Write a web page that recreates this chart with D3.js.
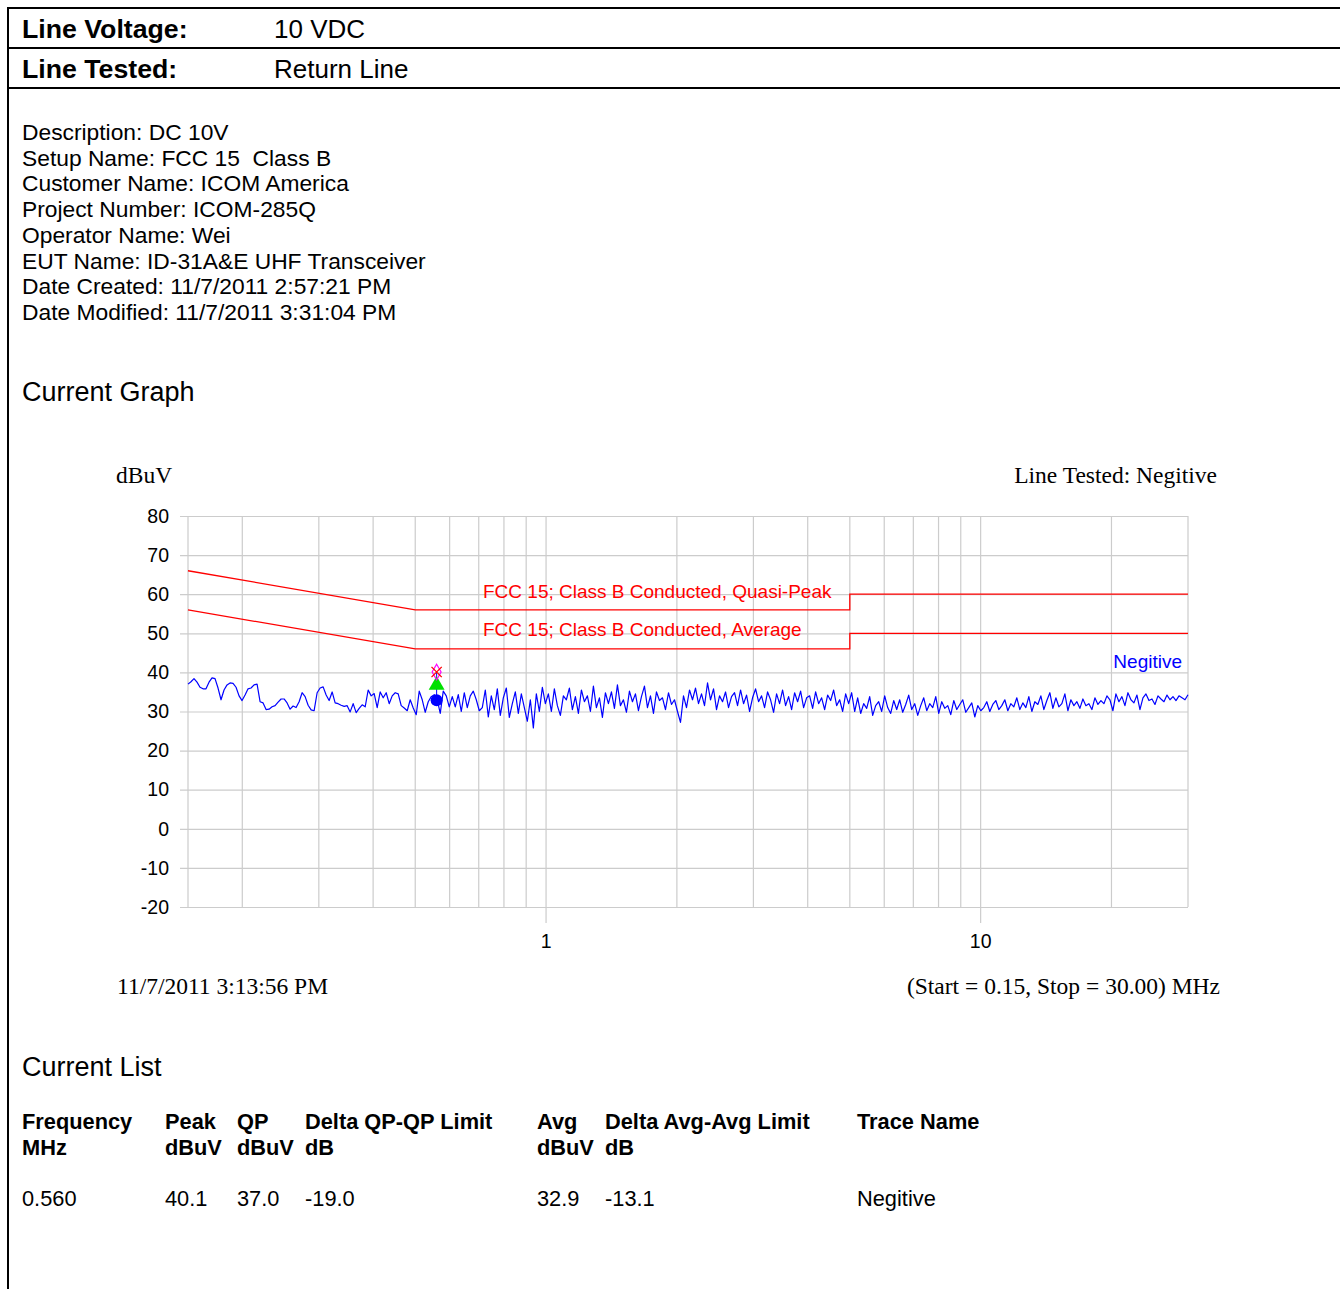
<!DOCTYPE html>
<html>
<head>
<meta charset="utf-8">
<script src="https://cdnjs.cloudflare.com/ajax/libs/d3/7.8.5/d3.min.js"></script>
<style>
  body { margin: 0; background: #ffffff; }
  svg { display: block; }
</style>
</head>
<body>
<script>
const width = 1340;
const height = 1289;

//HEADER + DESCRIPTION TEXT
const headerRows = [["Line Voltage:", "10 VDC"], ["Line Tested:", "Return Line"]];
const descriptionLines = [
    "Description: DC 10V",
    "Setup Name: FCC 15  Class B",
    "Customer Name: ICOM America",
    "Project Number: ICOM-285Q",
    "Operator Name: Wei",
    "EUT Name: ID-31A&E UHF Transceiver",
    "Date Created: 11/7/2011 2:57:21 PM",
    "Date Modified: 11/7/2011 3:31:04 PM"
];

//CHART DATA
const sweepStart = 0.15;   // MHz
const sweepStop = 30;      // MHz
const yTicks = [-20, -10, 0, 10, 20, 30, 40, 50, 60, 70, 80];
const xLabelTicks = [1, 10];

// limit lines: [MHz, dBuV]
const qpLimit = [[0.15, 66], [0.5, 56], [5, 56], [5, 60], [30, 60]];
const avgLimit = [[0.15, 56], [0.5, 46], [5, 46], [5, 50], [30, 50]];

// trace levels (dBuV), sweep points evenly stepped in log frequency from start to stop
const traceLevels = [
    37.0, 37.6, 38.4, 37.5, 36.2, 35.8, 35.8, 37.5, 38.6, 38.4,
    36.0, 33.0, 35.5, 36.8, 37.3, 37.2, 36.2, 34.0, 32.8, 34.2,
    35.8, 36.0, 36.8, 37.0, 32.5, 32.2, 30.5, 30.6, 31.2, 31.5,
    32.4, 33.2, 33.2, 32.2, 30.6, 31.4, 31.0, 32.5, 34.8, 33.8,
    31.6, 30.4, 30.2, 34.8, 36.0, 36.3, 34.2, 32.8, 35.0, 32.2,
    32.0, 31.6, 31.3, 31.5, 29.9, 32.0, 29.7, 30.8, 31.7, 31.2,
    35.5, 34.0, 34.6, 31.0, 35.0, 33.5, 34.8, 32.0, 34.0, 34.8,
    34.5, 31.5, 30.9, 30.2, 33.0, 30.9, 29.2, 35.2, 33.0, 29.8,
    32.5, 33.8, 34.3, 33.0, 29.5, 35.2, 34.0, 31.2, 33.8, 31.2,
    34.3, 30.0, 34.8, 31.0, 34.0, 35.2, 33.0, 30.2,
    // 0.56 - 1.3 MHz
    31.0, 35.5, 28.6, 34.0, 30.5, 35.8, 29.0, 33.5, 36.0, 28.5,
    32.0, 35.0, 29.5, 34.5, 31.0, 27.5, 33.0, 25.8, 34.5, 30.0,
    36.2, 32.0, 34.5, 30.0, 35.8, 31.5, 29.0, 34.0, 33.0, 36.0,
    30.5, 33.8, 29.5, 35.5, 32.5, 34.0, 30.0, 36.5, 31.0, 33.5,
    28.5, 34.8, 32.0, 35.0, 30.8, 36.8, 31.5, 33.0, 29.8, 35.2,
    32.5, 34.5, 30.2, 33.8, 36.5, 31.0, 34.0, 29.5, 35.0, 32.8,
    33.5, 30.5, 34.8, 31.8, 33.0, 30.0, 27.2,
    // 2 - 5 MHz
    34.0, 31.0, 35.5, 33.0, 36.0, 32.0, 34.5, 31.5, 37.3, 33.0,
    35.8, 30.5, 34.0, 32.5, 35.0, 31.0, 33.8, 34.8, 31.5, 35.5,
    32.0, 34.2, 30.0, 33.5, 35.8, 32.5, 34.0, 31.0, 35.0, 33.0,
    29.8, 34.5, 32.0, 35.5, 31.5, 33.8, 30.5, 34.8, 32.5, 35.2,
    31.0, 33.5, 34.0, 30.8, 35.0, 32.0, 33.5, 30.5, 34.2, 32.8,
    35.5, 31.5, 33.0, 30.0, 34.5, 32.0, 34.8,
    // 5 - 10 MHz
    30.0, 33.5, 29.5, 32.0, 30.8, 33.8, 29.0, 31.5, 32.5, 30.0,
    34.0, 31.0, 29.5, 32.8, 30.5, 33.0, 29.8, 31.8, 34.2, 30.5,
    32.0, 29.0, 31.5, 33.5, 30.2, 32.0, 31.0, 33.8, 29.5, 32.5,
    30.8, 31.5, 29.2, 32.8, 30.5, 31.8, 33.0, 29.8, 31.0, 32.2,
    28.6, 31.5, 30.2,
    // 10 - 19 MHz
    31.0, 32.5, 30.0, 31.8, 32.8, 30.5, 31.5, 33.0, 30.2, 32.0,
    31.2, 33.5, 30.5, 32.2, 31.0, 33.8, 30.0, 32.5, 31.8, 34.0,
    30.5, 32.8, 34.8, 30.8, 33.5, 31.2, 32.0, 34.5, 30.2, 33.0,
    31.5, 32.5, 30.8, 33.2, 31.5, 32.0, 30.5, 33.5, 31.8, 32.8,
    // 19 - 30 MHz
    32.0, 34.0, 33.0, 30.2, 34.5, 32.5, 33.8, 31.5, 34.8, 33.0,
    32.2, 34.2, 30.5, 33.5, 34.5, 32.8, 33.2, 31.8, 34.0, 33.2,
    32.5, 34.2, 33.0, 33.8, 32.8, 34.0, 33.5, 33.0, 34.3
];

//CURRENT LIST (markers)
const markerFreq = [0.560];
const markerPeak = [40.1];
const markerQP = [37.0];
const markerQPDelta = [-19.0];
const markerAvg = [32.9];
const markerAvgDelta = [-13.1];
const markerTrace = ["Negitive"];

const sans = "Liberation Sans, Arial, sans-serif";
const serif = "Liberation Serif, Times New Roman, serif";

const svg0 = d3.select("body").append("svg")
    .attr("width", width)
    .attr("height", height);

//PAGE FRAME
svg0.append("line").attr("x1", 8).attr("y1", 8).attr("x2", 8).attr("y2", height)
    .attr("stroke", "#000").attr("stroke-width", 2);
[8, 48, 88].forEach(y => {
    svg0.append("line").attr("x1", 7).attr("y1", y).attr("x2", width).attr("y2", y)
        .attr("stroke", "#000").attr("stroke-width", 2);
});

headerRows.forEach((r, i) => {
    svg0.append("text")
        .attr("x", 22).attr("y", 38 + i * 40)
        .text(r[0])
        .style("font-family", sans)
        .style("font-size", "26.7px")
        .style("font-weight", "bold");
    svg0.append("text")
        .attr("x", 274).attr("y", 38 + i * 40)
        .text(r[1])
        .style("font-family", sans)
        .style("font-size", "26px");
});

descriptionLines.forEach((t, i) => {
    svg0.append("text")
        .attr("x", 22).attr("y", 140 + i * 25.7)
        .text(t)
        .style("font-family", sans)
        .style("font-size", "22.8px")
        .attr("xml:space", "preserve");
});

svg0.append("text").attr("x", 22).attr("y", 401).text("Current Graph")
    .style("font-family", sans).style("font-size", "27px");

//CHART
const plotLeft = 188, plotTop = 516, plotW = 1000, plotH = 391;
const x = d3.scaleLog().domain([sweepStart, sweepStop]).range([0, plotW]);
const y = d3.scaleLinear().domain([-20, 80]).range([plotH, 0]);

const chart = svg0.append("g").attr("transform", `translate(${plotLeft}, ${plotTop})`);

// vertical grid
const xGrid = [sweepStart].concat(x.ticks());
chart.append("g").selectAll("line").data(xGrid).join("line")
    .attr("x1", d => x(d)).attr("x2", d => x(d))
    .attr("y1", 0).attr("y2", d => xLabelTicks.includes(d) ? plotH + 16 : plotH)
    .attr("stroke", "#cccccc").attr("stroke-width", 1.2);

// y axis + horizontal grid
const yAxis = chart.append("g")
    .call(d3.axisLeft(y).tickValues(yTicks).tickSize(0).tickPadding(19).tickFormat(d => String(d)))
    .call(g => g.select(".domain").remove());
yAxis.selectAll(".tick line")
    .attr("x1", -8).attr("x2", plotW)
    .attr("stroke", "#cccccc").attr("stroke-width", 1.2);
yAxis.selectAll(".tick text")
    .style("font-family", sans)
    .style("font-size", "19.5px").attr("fill", "#000");

// x labels
chart.append("g").selectAll("text").data(xLabelTicks).join("text")
    .attr("x", d => x(d)).attr("y", plotH + 41)
    .attr("text-anchor", "middle")
    .text(d => d)
    .style("font-family", sans)
    .style("font-size", "19.5px");

// limit lines
const line = d3.line().x(d => x(d[0])).y(d => y(d[1]));
[qpLimit, avgLimit].forEach(lim => {
    chart.append("path").datum(lim).attr("d", line)
        .attr("fill", "none").attr("stroke", "#ff0000").attr("stroke-width", 1.3);
});
chart.append("text").attr("x", x(0.716)).attr("y", y(59.1))
    .text("FCC 15; Class B Conducted, Quasi-Peak")
    .style("font-family", sans).style("font-size", "19px")
    .attr("fill", "#ff0000");
chart.append("text").attr("x", x(0.716)).attr("y", y(49.4))
    .text("FCC 15; Class B Conducted, Average")
    .style("font-family", sans).style("font-size", "19px")
    .attr("fill", "#ff0000");

// trace
const n = traceLevels.length;
const traceData = traceLevels.map((v, i) => [sweepStart * Math.pow(sweepStop / sweepStart, i / (n - 1)), v]);
chart.append("path").datum(traceData).attr("d", line)
    .attr("fill", "none").attr("stroke", "#0000ff").attr("stroke-width", 1.2)
    .attr("stroke-linejoin", "round");
chart.append("text").attr("x", plotW - 6).attr("y", y(41.2))
    .attr("text-anchor", "end")
    .text(markerTrace[0])
    .style("font-family", sans).style("font-size", "19px")
    .attr("fill", "#0000ff");

// markers
markerFreq.forEach((f, i) => {
    const mx = x(f);
    chart.append("line").attr("x1", mx).attr("x2", mx)
        .attr("y1", y(markerPeak[i])).attr("y2", y(markerAvg[i]))
        .attr("stroke", "#0000ff").attr("stroke-width", 1);
    chart.append("circle").attr("cx", mx).attr("cy", y(markerAvg[i])).attr("r", 6)
        .attr("fill", "#0000ff");
    chart.append("path")
        .attr("d", d3.symbol(d3.symbolTriangle, 110)())
        .attr("transform", `translate(${mx}, ${y(markerQP[i]) + 1})`)
        .attr("fill", "#00e000");
    chart.append("path")
        .attr("d", d3.symbol(d3.symbolDiamond, 70)())
        .attr("transform", `translate(${mx}, ${y(markerPeak[i])})`)
        .attr("fill", "none").attr("stroke", "#ff00ff").attr("stroke-width", 1.2);
    chart.append("path")
        .attr("d", d3.symbol(d3.symbolX, 70)())
        .attr("transform", `translate(${mx}, ${y(markerPeak[i])})`)
        .attr("fill", "none").attr("stroke", "#ff0000").attr("stroke-width", 1.3);
});

// chart captions
svg0.append("text").attr("x", 116).attr("y", 483).text("dBuV")
    .style("font-family", serif).style("font-size", "23.5px");
svg0.append("text").attr("x", 1217).attr("y", 483).attr("text-anchor", "end").text("Line Tested: Negitive")
    .style("font-family", serif).style("font-size", "23.5px");
svg0.append("text").attr("x", 117).attr("y", 994).text("11/7/2011 3:13:56 PM")
    .style("font-family", serif).style("font-size", "23.5px");
svg0.append("text").attr("x", 1220).attr("y", 994).attr("text-anchor", "end")
    .text(`(Start = ${sweepStart.toFixed(2)}, Stop = ${sweepStop.toFixed(2)}) MHz`)
    .style("font-family", serif).style("font-size", "23.5px");

//CURRENT LIST TABLE
svg0.append("text").attr("x", 22).attr("y", 1076).text("Current List")
    .style("font-family", sans).style("font-size", "27px");

const colX = [22, 165, 237, 305, 537, 605, 857];
const colHead = [["Frequency", "MHz"], ["Peak", "dBuV"], ["QP", "dBuV"], ["Delta QP-QP Limit", "dB"],
    ["Avg", "dBuV"], ["Delta Avg-Avg Limit", "dB"], ["Trace Name", ""]];
colHead.forEach((h, i) => {
    h.forEach((t, j) => {
        svg0.append("text").attr("x", colX[i]).attr("y", 1129 + j * 26).text(t)
            .style("font-family", sans)
            .style("font-size", "21.8px").style("font-weight", "bold");
    });
});
markerFreq.forEach((f, i) => {
    const row = [f.toFixed(3), markerPeak[i].toFixed(1), markerQP[i].toFixed(1), markerQPDelta[i].toFixed(1),
        markerAvg[i].toFixed(1), markerAvgDelta[i].toFixed(1), markerTrace[i]];
    row.forEach((t, j) => {
        svg0.append("text").attr("x", colX[j]).attr("y", 1206 + i * 26).text(t)
            .style("font-family", sans)
            .style("font-size", "21.8px");
    });
});
</script>
</body>
</html>
